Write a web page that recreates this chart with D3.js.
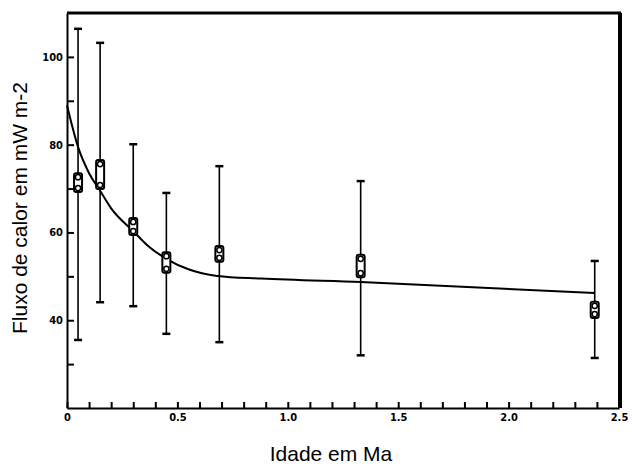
<!DOCTYPE html>
<html>
<head>
<meta charset="utf-8">
<script src="https://cdn.jsdelivr.net/npm/d3@7"></script>
<style>
  body { margin: 0; background: #fff; }
  svg { display: block; }
</style>
</head>
<body>
<div id="chart"></div>
<script>
// Sample ages (Ma) and heat flow readings
const ages = [0.05, 0.15, 0.3, 0.45, 0.69, 1.33, 2.39];
const boxHigh = [73.5, 76.5, 63.3, 55.5, 56.9, 54.9, 44.2];
const boxLow = [69.2, 69.9, 59.4, 50.8, 53.3, 49.8, 40.5];
const errHigh = [106.4, 103.2, 80.1, 69.0, 75.1, 71.7, 53.5];
const errLow = [35.5, 44.1, 43.2, 36.9, 35.0, 32.0, 31.4];

// Fitted curve
const curveAges = [0, 0.05, 0.1, 0.15, 0.2, 0.3, 0.37, 0.45, 0.55, 0.68, 0.88, 1.33, 2.39];
const curveFlux = [89, 79.5, 73.5, 69.5, 65.5, 60.3, 56.8, 54, 51.6, 50.1, 49.5, 48.7, 46.2];

const xMajor = [0, 0.5, 1.0, 1.5, 2.0, 2.5];
const xLabels = ["0", "0.5", "1.0", "1.5", "2.0", "2.5"];
const yMajor = [40, 60, 80, 100];
const yMinor = [30, 50, 70, 90];

const width = 632;
const height = 464;

const x = d3.scaleLinear().domain([0, 2.5]).range([67, 619]);
const y = d3.scaleLinear().domain([20, 110]).range([408, 13]);

const svg = d3.select("#chart")
  .append("svg")
  .attr("width", width)
  .attr("height", height);

// frame: thick top and right edges
svg.append("line")
  .attr("x1", x(0)).attr("x2", x(2.5) + 2)
  .attr("y1", y(110)).attr("y2", y(110))
  .attr("stroke", "#000").attr("stroke-width", 3);
svg.append("line")
  .attr("x1", x(2.5) + 1).attr("x2", x(2.5) + 1)
  .attr("y1", y(110)).attr("y2", y(20))
  .attr("stroke", "#000").attr("stroke-width", 4);

// x axis, ticks pointing into the plot
const xMinorTicks = d3.range(0, 26).map(i => i / 10);
svg.append("g")
  .attr("transform", `translate(0,${y(20)})`)
  .call(d3.axisBottom(x)
    .tickValues(xMinorTicks)
    .tickSizeInner(-6)
    .tickSizeOuter(0)
    .tickPadding(5)
    .tickFormat(d => {
      const i = xMajor.findIndex(v => Math.abs(v - d) < 1e-6);
      return i >= 0 ? xLabels[i] : "";
    }));

// y axis, ticks pointing into the plot
svg.append("g")
  .attr("transform", `translate(${x(0)},0)`)
  .call(d3.axisLeft(y)
    .tickValues(yMajor.concat(yMinor))
    .tickSizeInner(-7)
    .tickSizeOuter(0)
    .tickPadding(4)
    .tickFormat(d => yMajor.includes(d) ? d : ""));

svg.selectAll(".domain").attr("stroke-width", 2);
svg.selectAll(".tick line").attr("stroke-width", 2);
svg.selectAll(".tick text")
  .attr("font-family", "DejaVu Sans Condensed, DejaVu Sans, sans-serif")
  .attr("font-weight", "bold")
  .attr("font-size", 11)
  .attr("fill", "#000");

// fitted curve
const line = d3.line()
  .x((d, i) => x(curveAges[i]))
  .y(d => y(d))
  .curve(d3.curveMonotoneX);
svg.append("path")
  .datum(curveFlux)
  .attr("d", line)
  .attr("fill", "none")
  .attr("stroke", "#000")
  .attr("stroke-width", 2);

// error bars
const bars = svg.append("g").selectAll("g")
  .data(ages)
  .join("g");
bars.append("line")
  .attr("x1", d => x(d)).attr("x2", d => x(d))
  .attr("y1", (d, i) => y(errHigh[i]))
  .attr("y2", (d, i) => y(errLow[i]))
  .attr("stroke", "#000")
  .attr("stroke-width", 1.6);
bars.append("line")
  .attr("x1", d => x(d) - 4).attr("x2", d => x(d) + 4)
  .attr("y1", (d, i) => y(errHigh[i]))
  .attr("y2", (d, i) => y(errHigh[i]))
  .attr("stroke", "#000")
  .attr("stroke-width", 2.5);
bars.append("line")
  .attr("x1", d => x(d) - 4).attr("x2", d => x(d) + 4)
  .attr("y1", (d, i) => y(errLow[i]))
  .attr("y2", (d, i) => y(errLow[i]))
  .attr("stroke", "#000")
  .attr("stroke-width", 2.5);

// box markers with two circles inside
bars.append("rect")
  .attr("x", d => x(d) - 4)
  .attr("y", (d, i) => y(boxHigh[i]))
  .attr("width", 8)
  .attr("height", (d, i) => y(boxLow[i]) - y(boxHigh[i]))
  .attr("rx", 2)
  .attr("fill", "#fff")
  .attr("stroke", "#000")
  .attr("stroke-width", 2);
bars.append("circle")
  .attr("cx", d => x(d))
  .attr("cy", (d, i) => y(boxHigh[i]) + 4)
  .attr("r", 2.6)
  .attr("fill", "#fff")
  .attr("stroke", "#000")
  .attr("stroke-width", 1.5);
bars.append("circle")
  .attr("cx", d => x(d))
  .attr("cy", (d, i) => y(boxLow[i]) - 4)
  .attr("r", 2.6)
  .attr("fill", "#fff")
  .attr("stroke", "#000")
  .attr("stroke-width", 1.5);

// axis titles
svg.append("text")
  .attr("x", 331)
  .attr("y", 461)
  .attr("text-anchor", "middle")
  .attr("font-family", "Liberation Sans, Arial, sans-serif")
  .attr("font-size", 21)
  .text("Idade em Ma");

svg.append("text")
  .attr("transform", "translate(27,208) rotate(-90)")
  .attr("text-anchor", "middle")
  .attr("font-family", "Liberation Sans, Arial, sans-serif")
  .attr("font-size", 21)
  .text("Fluxo de calor em mW m-2");
</script>
</body>
</html>
